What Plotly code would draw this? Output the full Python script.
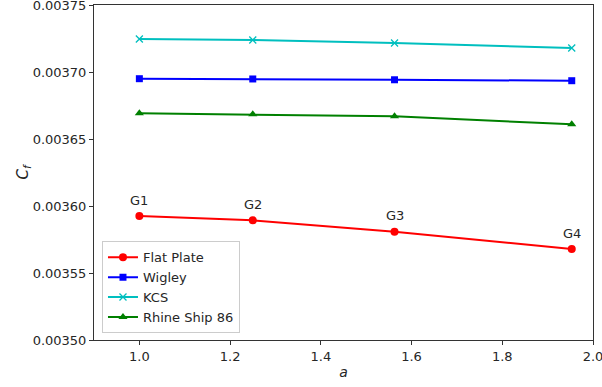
import plotly.graph_objects as go

a_values = [1.0, 1.25, 1.5625, 1.953125]
flat_plate = [0.0035925, 0.0035893, 0.0035808, 0.0035679]
wigley = [0.0036950, 0.0036948, 0.0036942, 0.0036935]
kcs = [0.0037246, 0.0037239, 0.0037216, 0.0037179]
rhine = [0.0036692, 0.0036684, 0.0036669, 0.0036610]
grid_labels = ["G1", "G2", "G3", "G4"]
x_ticks = [1.0, 1.2, 1.4, 1.6, 1.8, 2.0]
x_tick_text = ["1.0", "1.2", "1.4", "1.6", "1.8", "2.0"]
y_ticks = [0.00350, 0.00355, 0.00360, 0.00365, 0.00370, 0.00375]
y_tick_text = ["0.00350", "0.00355", "0.00360", "0.00365", "0.00370", "0.00375"]

font = "DejaVu Sans"
fig = go.Figure()

series = [
    ("Flat Plate", flat_plate, "#ff0000", "circle", 8, None),
    ("Wigley", wigley, "#0000ff", "square", 7, None),
    ("KCS", kcs, "#00bfbf", "x-thin", 7, 1.3),
    ("Rhine Ship 86", rhine, "#008000", "triangle-up", 8, None),
]
for name, vals, col, sym, size, lw in series:
    marker = dict(color=col, symbol=sym, size=size)
    if lw:
        marker["line"] = dict(color=col, width=lw)
    fig.add_trace(go.Scatter(x=a_values, y=vals, name=name, mode="lines+markers",
                             line=dict(color=col, width=2), marker=marker))

for xv, yv, lab in zip(a_values, flat_plate, grid_labels):
    fig.add_annotation(x=xv, y=yv, text=lab, showarrow=False, yshift=16,
                       font=dict(family=font, size=13, color="#262626"))

axis_common = dict(showline=True, linecolor="#333333", linewidth=1, mirror=True,
                   ticks="outside", ticklen=4, tickcolor="#333333", showgrid=False,
                   zeroline=False, ticklabeloverflow="allow",
                   tickfont=dict(family=font, size=13, color="#262626"))

fig.update_layout(
    width=602, height=387,
    margin=dict(l=94, r=9, t=5, b=47),
    paper_bgcolor="white", plot_bgcolor="white",
    font=dict(family=font, size=13, color="#262626"),
    xaxis=dict(range=[0.9, 2.0], tickmode="array", tickvals=x_ticks,
               ticktext=x_tick_text, automargin=False,
               title=dict(text="<i>a</i>", standoff=4, font=dict(family=font, size=14)),
               **axis_common),
    yaxis=dict(range=[0.00350, 0.00375], tickmode="array", tickvals=y_ticks,
               ticktext=y_tick_text, automargin=False,
               title=dict(text="<i>C</i><sub><i>f</i></sub>", standoff=0,
                          font=dict(family=font, size=15)),
               **axis_common),
    legend=dict(x=0.016, y=0.02, xanchor="left", yanchor="bottom",
                bgcolor="rgba(255,255,255,0.8)", bordercolor="#cccccc", borderwidth=1,
                font=dict(family=font, size=13, color="#262626"), tracegroupgap=2),
    showlegend=True,
)

fig.write_html("out.html", config={"displayModeBar": False},
               post_script="document.body.style.margin='0px';")
